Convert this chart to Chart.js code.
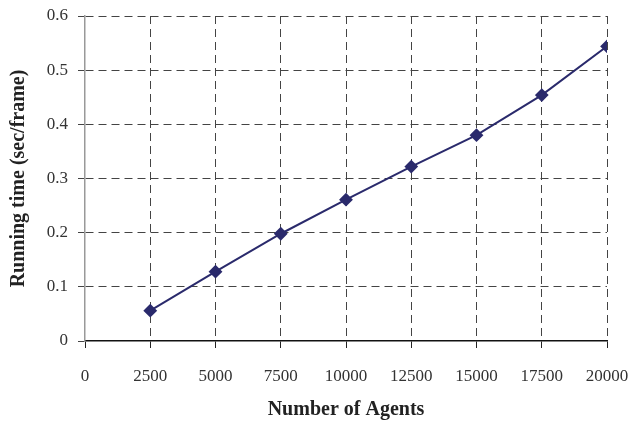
<!DOCTYPE html>
<html>
<head>
<meta charset="utf-8">
<script src="https://cdn.jsdelivr.net/npm/chart.js@4"></script>
<style>
  html, body { margin: 0; padding: 0; background: #fff; }
  #wrap { width: 636px; height: 426px; }
</style>
</head>
<body>
<div id="wrap"><canvas id="chart" width="636" height="426"></canvas></div>
<script>
// values
const agents = [2500, 5000, 7500, 10000, 12500, 15000, 17500, 20000];
const runTime = [0.056, 0.128, 0.198, 0.261, 0.322, 0.380, 0.454, 0.544];
const xTicks = [0, 2500, 5000, 7500, 10000, 12500, 15000, 17500, 20000];
const yTicks = [0, 0.1, 0.2, 0.3, 0.4, 0.5, 0.6];

const SERIF = "'Liberation Serif', 'DejaVu Serif', serif";
const LINE = "#2a2a6c";
const DASH = [8, 5];

window.addEventListener("load", main);

// gridline at 0 is hidden, the solid axis line takes its place
function gridColor(c) {
  return c.tick && c.tick.value === 0 ? "rgba(0,0,0,0)" : "#444";
}

function main() {
  const ctx = document.getElementById("chart").getContext("2d");
  const points = agents.map((a, i) => ({ x: a, y: runTime[i] }));

  new Chart(ctx, {
    type: "line",
    data: {
      datasets: [{
        label: "Running time",
        data: points,
        borderColor: LINE,
        backgroundColor: LINE,
        borderWidth: 2,
        pointStyle: "rectRot",
        pointRadius: 5.5,
        pointHoverRadius: 5.5,
        tension: 0
      }]
    },
    options: {
      responsive: false,
      animation: false,
      layout: { padding: { left: 0, right: 29, top: 16, bottom: 0 } },
      plugins: {
        legend: { display: false },
        tooltip: { enabled: false }
      },
      scales: {
        x: {
          type: "linear",
          min: 0,
          max: 20000,
          afterBuildTicks: (axis) => { axis.ticks = xTicks.map(v => ({ value: v })); },
          afterFit: (axis) => {
            axis.height = 85;
            axis.paddingLeft = 0;
            axis.paddingRight = 0;
          },
          grid: {
            color: gridColor,
            lineWidth: 1,
            tickLength: 7,
            tickColor: "#222",
            tickBorderDash: []
          },
          border: { display: true, color: "#111", width: 1.5, dash: (c) => c.tick ? DASH : [] },
          ticks: {
            color: "#333",
            padding: 18,
            maxRotation: 0,
            font: { family: SERIF, size: 17 },
            callback: (v) => String(v)
          },
          title: {
            display: true,
            text: "Number of Agents",
            color: "#222",
            padding: { top: 0, bottom: 4 },
            font: { family: SERIF, size: 20, weight: "bold" }
          }
        },
        y: {
          min: 0,
          max: 0.6,
          afterBuildTicks: (axis) => { axis.ticks = yTicks.map(v => ({ value: v })); },
          afterFit: (axis) => {
            axis.width = 85;
            axis.paddingTop = 0;
            axis.paddingBottom = 0;
          },
          grid: {
            color: gridColor,
            lineWidth: 1,
            tickLength: 7,
            tickColor: "#444",
            tickBorderDash: DASH
          },
          border: { display: true, color: "#999", width: 1.5, dash: (c) => c.tick ? DASH : [] },
          ticks: {
            color: "#333",
            padding: 10,
            font: { family: SERIF, size: 17 },
            callback: (v) => String(Math.round(v * 10) / 10)
          },
          title: {
            display: true,
            text: "Running time (sec/frame)",
            color: "#222",
            padding: { top: 7, bottom: 0 },
            font: { family: SERIF, size: 20, weight: "bold" }
          }
        }
      }
    }
  });
}
</script>
</body>
</html>
